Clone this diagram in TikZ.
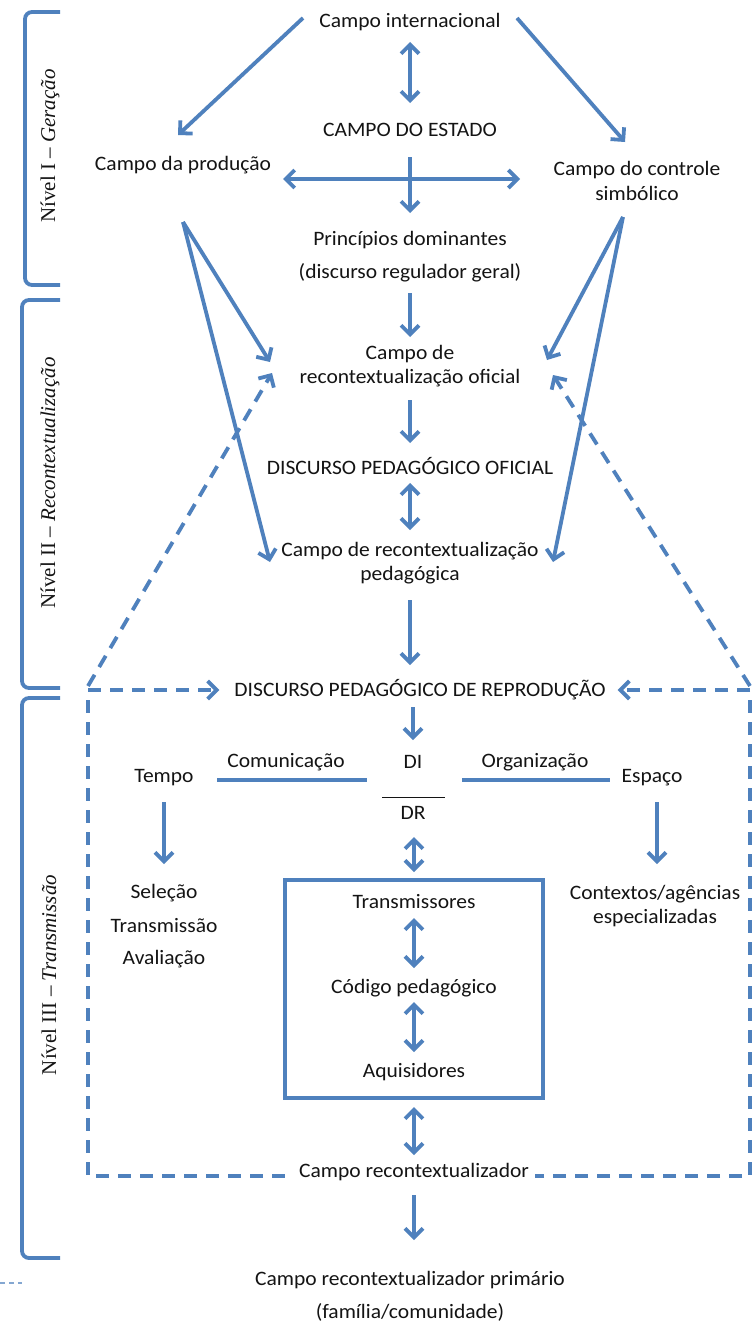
\documentclass[tikz,border=0pt]{standalone}
\usepackage{fontspec}
\setmainfont{Carlito}[FakeStretch=1.05]
\newfontfamily\serifont{Liberation Serif}
\usetikzlibrary{arrows.meta,calc}
\definecolor{myblue}{RGB}{79,129,189}
\definecolor{txtc}{RGB}{20,20,20}
\begin{document}
\begin{tikzpicture}[x=1pt,y=-1pt,
  txt/.style={inner sep=0pt, text=txtc, font=\fontsize{20.5}{24.5}\selectfont, align=center},
  lvl/.style={inner sep=0pt, text=txtc, rotate=90, font=\serifont\fontsize{21}{25}\selectfont},
  ln/.style={draw=myblue, line width=3.8pt},
  tip/.tip={Straight Barb[length=9pt,width=18pt]},
  arr/.style={ln, -tip},
  darr/.style={ln, tip-tip},
  dsh/.style={ln, dash pattern=on 13pt off 9pt},
  darrow/.style={dsh, -tip},
  boxst/.style={draw=myblue, line width=4pt, minimum width=258pt, minimum height=218pt, inner sep=0pt}
]
\useasboundingbox[fill=white] (0,0) rectangle (755,1322);

% ---------- nodes ----------
\node[txt] (ci) at (410,22) {Campo internacional};
\node[txt] (ce) at (410,130) {CAMPO DO ESTADO};
\node[txt] (cp) at (183,165) {Campo da produção};
\node[txt] (cs) at (637,181) {Campo do controle\\simbólico};
\node[txt] (pd) at (410,240) {Princípios dominantes};
\node[txt] (drg) at (410,273) {(discurso regulador geral)};
\node[txt] (cro) at (410,366) {Campo de\\recontextualização oficial};
\node[txt] (dpo) at (410,466) {DISCURSO PEDAGÓGICO OFICIAL};
\node[txt] (crp) at (410,563) {Campo de recontextualização\\pedagógica};
\node[txt] (dpr) at (420,690) {DISCURSO PEDAGÓGICO DE REPRODUÇÃO};
\node[txt] (di) at (413,762) {DI};
\node[txt] (drr) at (413,813) {DR};
\node[txt] (tempo) at (164,778) {Tempo};
\node[txt] (com) at (286,762) {Comunicação};
\node[txt] (org) at (535,762) {Organização};
\node[txt] (esp) at (652,778) {Espaço};
\node[txt] (sel) at (164,893) {Seleção};
\node[txt] (tra) at (164,926) {Transmissão};
\node[txt] (ava) at (164,959) {Avaliação};
\node[txt] (ctx) at (655,906) {Contextos/agências\\especializadas};
\node[boxst] (box) at (414,989) {};
\node[txt] (trs) at (414,902) {Transmissores};
\node[txt] (cod) at (414,988) {Código pedagógico};
\node[txt] (aqu) at (414,1072) {Aquisidores};
\node[txt, inner xsep=6pt] (crz) at (414,1172) {Campo recontextualizador};
\node[txt] (crpr) at (410,1280) {Campo recontextualizador primário};
\node[txt] (fam) at (410,1312) {(família/comunidade)};

\node[lvl] (l1) at (50,146) {Nível I – \textit{Geração}};
\node[lvl] (l2) at (50,483) {Nível II – \textit{Recontextualização}};
\node[lvl] (l3) at (49,975) {Nível III – \textit{Transmissão}};

% ---------- brackets ----------
\draw[ln, rounded corners=7pt] (60,12) -- (25,12) -- (25,285) -- (60,285);
\draw[ln, rounded corners=7pt] (60,300) -- (22,300) -- (22,688) -- (60,688);
\draw[ln, rounded corners=7pt] (60,698) -- (22,698) -- (22,1258) -- (60,1258);

% ---------- level I ----------
\draw[darr] ($(ci)+(0,20)$) -- ($(ce)+(0,-27)$);
\draw[arr] ($(ci)+(-107,-4)$) -- ($(cp)+(-5,-30)$);
\draw[arr] ($(ci)+(107,-4)$) -- ($(cs)+(-12,-39)$);
\draw[darr] ($(cp)+(100,14)$) -- ($(cs)+(-117,-2)$);
\draw[arr] ($(ce)+(0,27)$) -- ($(pd)+(0,-27)$);

% ---------- level II ----------
\draw[arr] ($(drg)+(0,20)$) -- ($(cro)+(0,-29)$);
\draw[arr] ($(cro)+(0,34)$) -- ($(dpo)+(0,-23)$);
\draw[darr] ($(dpo)+(0,17)$) -- ($(crp)+(0,-33)$);
\draw[arr] ($(crp)+(0,37)$) -- ($(dpr)+(-10,-25)$);
\draw[arr] ($(cp)+(0,57)$) -- ($(cro)+(-140,-4)$);
\draw[arr] ($(cp)+(0,57)$) -- ($(crp)+(-140,-1)$);
\draw[arr] ($(cs)+(-14,36)$) -- ($(cro)+(137,-6)$);
\draw[arr] ($(cs)+(-14,36)$) -- ($(crp)+(143,-1)$);

% ---------- dashed frame ----------
\coordinate (tl) at (88,686);
\coordinate (tr) at (750,686);
\coordinate (bl) at (88,1176);
\coordinate (br) at (750,1176);
\draw[darrow] (tl) -- ($(cro)+(-138,7)$);
\draw[darrow] (tr) -- ($(cro)+(143,9)$);
\draw[darrow] (tl |- dpr.west) -- ($(dpr.west)+(-15,0)$);
\draw[darrow] (tr |- dpr.east) -- ($(dpr.east)+(12,0)$);
\draw[dsh] ($(tl)+(0,14)$) -- (bl) -- (bl -| crz.west);
\draw[dsh] ($(tr)+(0,14)$) -- (br) -- (br -| crz.east);

% ---------- level III ----------
\draw[arr] ($(dpr)+(-7,17)$) -- ($(di)+(0,-22)$);
\draw[ln, line width=3.4pt] ($(com)+(-69,18)$) -- ($(com)+(81,18)$);
\draw[ln, line width=3.4pt] ($(org)+(-73,18)$) -- ($(org)+(75,18)$);
\draw[txtc, line width=0.9pt] ($(di)+(-31,35)$) -- ($(di)+(32,35)$);
\draw[arr] ($(tempo)+(0,24)$) -- ($(sel)+(0,-29)$);
\draw[arr] ($(esp)+(5,24)$) -- ($(ctx)+(2,-42)$);
\draw[darr] ($(drr)+(1,24)$) -- ($(box.north)+(0,-6)$);
\draw[darr] ($(trs)+(0,16)$) -- ($(cod)+(0,-20)$);
\draw[darr] ($(cod)+(0,14)$) -- ($(aqu)+(0,-20)$);
\draw[darr] ($(box.south)+(0,7)$) -- ($(crz)+(0,-17)$);
\draw[arr] ($(crz)+(0,23)$) -- ($(crz)+(0,68)$);

% small fragment at lower left edge
\draw[myblue!70, line width=1.2pt, dash pattern=on 5pt off 4pt] (0,1283) -- (22,1283);
\end{tikzpicture}
\end{document}
